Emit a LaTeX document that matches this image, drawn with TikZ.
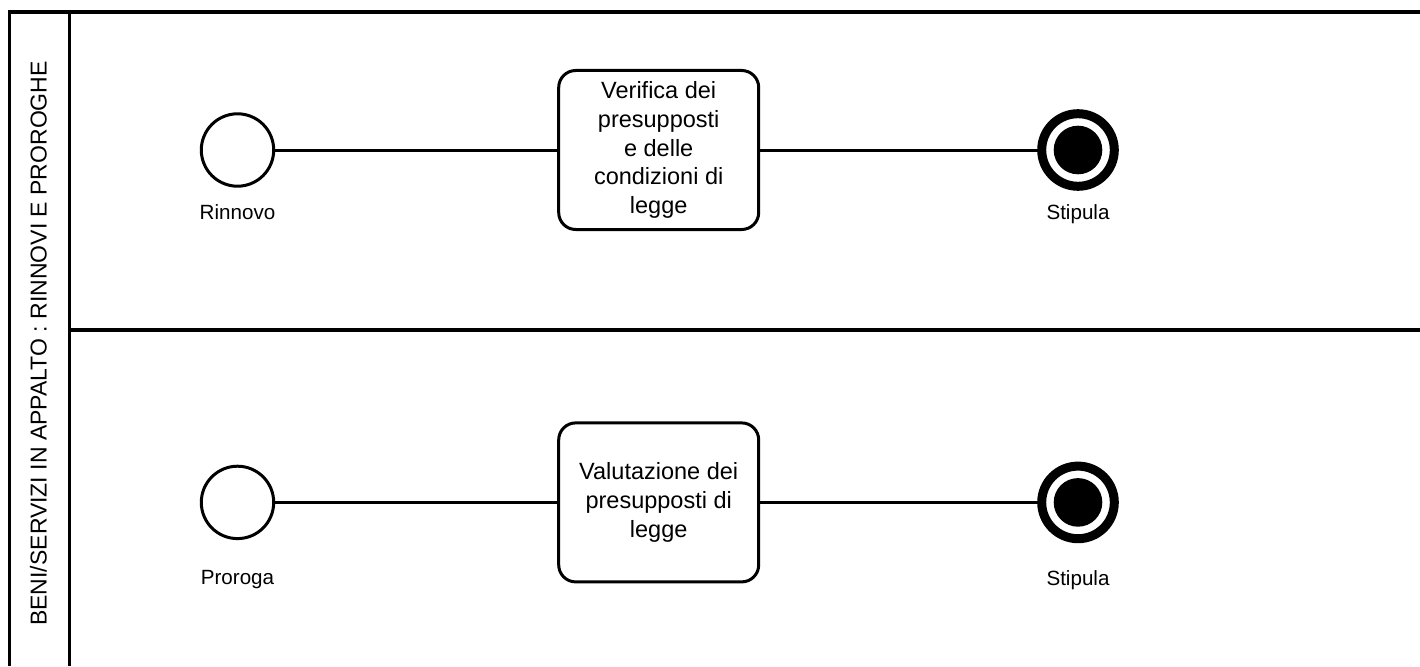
\documentclass[tikz,border=0pt]{standalone}
\usepackage{fontspec}
\setmainfont{Liberation Sans}
\usepackage{tikz}
\usetikzlibrary{positioning}

\begin{document}
\begin{tikzpicture}[
  x=1pt, y=-1pt,
  pool/.style={line width=3.6pt},
  startev/.style={draw,circle,line width=3pt,minimum size=72.4pt,inner sep=0pt,outer sep=0pt},
  endev/.style={draw,circle,line width=9pt,minimum size=72.6pt,inner sep=0pt,outer sep=0pt,
    path picture={\fill[black] (path picture bounding box.center) circle (24.3pt);}},
  task/.style={draw,rounded corners=17pt,line width=3pt,minimum width=200pt,minimum height=159pt,
    inner sep=0pt,outer sep=0pt,align=center,font=\fontsize{23.5}{28.6}\selectfont},
  evlbl/.style={inner sep=0pt,font=\fontsize{20.6}{24}\selectfont},
  flow/.style={line width=3pt}
]
  \fill[white] (0,0) rectangle (1420,666);
  \useasboundingbox (0,0) rectangle (1420,666);

  % pool and lanes
  \draw[pool] (1420,12) -- (9.5,12) -- (9.5,666);
  \draw[pool] (69.5,12) -- (69.5,666);
  \draw[pool] (69.5,330) -- (1420,330);
  \node[rotate=90,inner sep=0pt,font=\fontsize{23}{27}\selectfont] (lane) at (38.3,343.5)
    {BENI/SERVIZI IN APPALTO : RINNOVI E PROROGHE};

  % rinnovo
  \node[startev] (s1) at (237.5,150) {};
  \node[task, right=285pt of s1] (t1) {Verifica dei\\presupposti\\e delle\\condizioni di\\legge};
  \node[endev, right=283pt of t1] (e1) {};
  \node[evlbl, below=18pt of s1] (l1) {Rinnovo};
  \node[evlbl, below=18pt of e1] (l2) {Stipula};

  % proroga
  \node[startev, below=280pt of s1] (s2) {};
  \node[task, right=285pt of s2] (t2) {Valutazione dei\\presupposti di\\legge};
  \node[endev, right=283pt of t2] (e2) {};
  \node[evlbl, below=32pt of s2] (l3) {Proroga};
  \node[evlbl, below=32pt of e2] (l4) {Stipula};

  \draw[flow] (s1) -- (t1);
  \draw[flow] (t1) -- (e1);
  \draw[flow] (s2) -- (t2);
  \draw[flow] (t2) -- (e2);
\end{tikzpicture}
\end{document}
